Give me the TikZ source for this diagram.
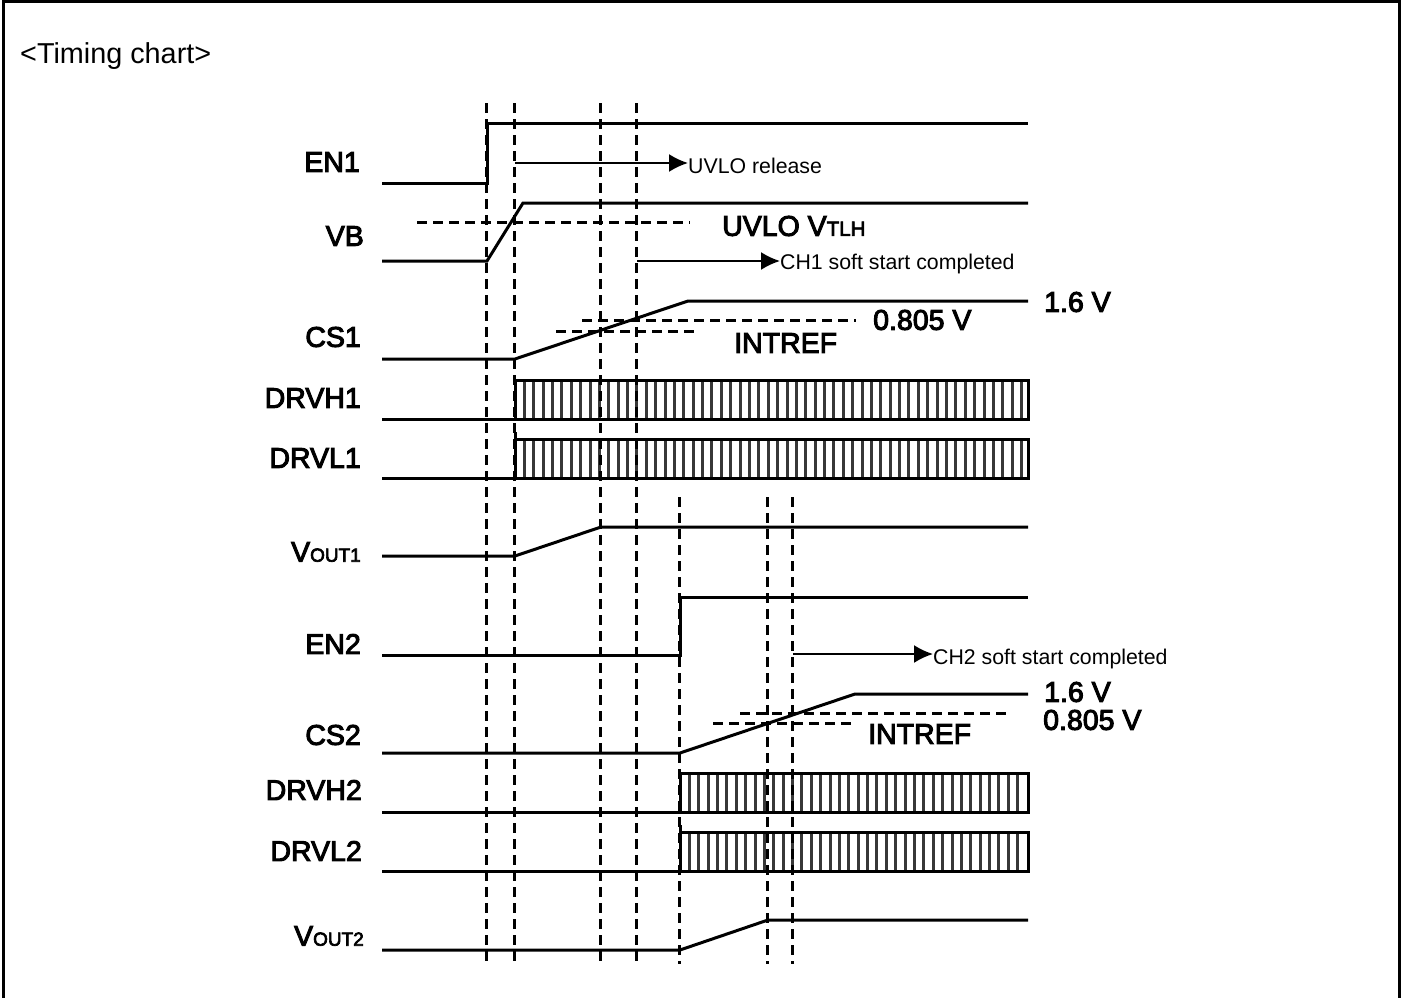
\documentclass[tikz,border=0pt]{standalone}
\usepackage{fontspec}
\setmainfont{Liberation Sans}
\newfontfamily\heavyfont[FakeBold=3.5]{Liberation Sans}
\usetikzlibrary{arrows.meta}
\newcommand{\biglab}{\heavyfont\fontsize{28.5}{30}\selectfont}
\newcommand{\smlab}{\heavyfont\fontsize{19}{20}\selectfont}
\newcommand{\tlhlab}{\heavyfont\fontsize{20.5}{20}\selectfont}
\newcommand{\notelab}{\fontsize{21.3}{24}\selectfont}
\tikzset{
  x=1pt,y=-1pt,
  wave/.style={line width=3pt,line join=miter,black},
  guide/.style={line width=3pt,dash pattern=on 9.5pt off 6.5pt,black},
  level/.style={line width=3pt,dash pattern=on 9.5pt off 6.5pt,black},
  pointer/.style={line width=2pt,-{Latex[length=19pt,width=18pt]},black},
  hatch/.style={line width=3pt,black!78},
  sig/.style={inner sep=0pt,anchor=east},
  val/.style={inner sep=0pt,anchor=west},
  note/.style={inner sep=0pt,anchor=west},
}
\newcommand{\pwmbar}[3]{% x start, top, bottom
  \foreach \hx in {0,...,60}{
    \pgfmathsetmacro{\px}{#1+9.38*\hx+9.38}
    \ifdim\px pt<1027pt
      \draw[hatch] (\px,#2) -- (\px,#3);
    \fi
  }
  \draw[wave] (382,#3) -- (1028,#3) -- (1028,#2) -- (#1,#2) -- (#1,#3);
}
\begin{document}
\begin{tikzpicture}
\useasboundingbox (0,0) rectangle (1401,998);
\fill[white] (0,0) rectangle (1401,998);
\draw[line width=3pt] (3,998) -- (3,1.5) -- (1399,1.5) -- (1399,998);

\node[inner sep=0pt,anchor=west,font=\fontsize{28.8}{30}\selectfont] (title) at (20,56) {<Timing chart>};

% bars
\pwmbar{515}{380}{419}
\pwmbar{515}{439}{478}
\pwmbar{680}{773}{812}
\pwmbar{680}{832}{871}
\draw[line width=3pt] (515,432) -- (515,439);
\draw[line width=3pt] (680,825) -- (680,832);

% guide lines
\foreach \gx/\ga in {486.6/103,514.6/103,600.6/103,636.6/103,679.6/497,767.6/497,792.6/497}{
  \draw[guide] (\gx,\ga) -- (\gx,964);
}

% waves
\draw[wave] (382,183) -- (487,183) -- (487,123) -- (1028,123);
\draw[wave] (382,261) -- (487,261) -- (523,203) -- (1028,203);
\draw[wave] (382,359) -- (515,359) -- (688,301) -- (1028,301);
\draw[wave] (382,556) -- (515,556) -- (601,527) -- (1028,527);
\draw[wave] (382,655) -- (680,655) -- (680,597) -- (1028,597);
\draw[wave] (382,753) -- (680,753) -- (855,694) -- (1028,694);
\draw[wave] (382,950) -- (680,950) -- (768,920) -- (1028,920);

% reference levels
\draw[level] (417,222) -- (690,222);
\draw[level] (582,320) -- (856,320);
\draw[level] (556,331) -- (697,331);
\draw[level] (740,713) -- (1012,713);
\draw[level] (713,723) -- (855,723);

% signal names
\node[sig,font=\biglab] (en1) at (360,162) {EN1};
\node[sig,font=\biglab] (vb) at (364,236) {VB};
\node[sig,font=\biglab] (cs1) at (361,337) {CS1};
\node[sig,font=\biglab] (drvh1) at (361,398) {DRVH1};
\node[sig,font=\biglab] (drvl1) at (361,458) {DRVL1};
\node[sig,font=\biglab] (vout1) at (361,552) {V{\smlab OUT1}};
\node[sig,font=\biglab] (en2) at (361,644) {EN2};
\node[sig,font=\biglab] (cs2) at (361,735) {CS2};
\node[sig,font=\biglab] (drvh2) at (362,790) {DRVH2};
\node[sig,font=\biglab] (drvl2) at (362,851) {DRVL2};
\node[sig,font=\biglab] (vout2) at (364,936) {V{\smlab OUT2}};

% values
\node[val,font=\biglab] (v16a) at (1044,302) {1.6 V};
\node[val,font=\biglab] (v805a) at (873,320) {0.805 V};
\node[val,font=\biglab] (irefa) at (734,343) {INTREF};
\node[val,font=\biglab] (uvlov) at (722,226) {UVLO V{\tlhlab TLH}};
\node[val,font=\biglab] (v16b) at (1044,692) {1.6 V};
\node[val,font=\biglab] (v805b) at (1043,720) {0.805 V};
\node[val,font=\biglab] (irefb) at (868,734) {INTREF};

% notes and pointers
\node[note,font=\notelab] (n1) at (688,165.5) {UVLO release};
\node[note,font=\notelab] (n2) at (780,264) {CH1 soft start completed};
\node[note,font=\notelab] (n3) at (933,659) {CH2 soft start completed};
\coordinate (p1) at (515,163);
\coordinate (p2) at (637,261);
\coordinate (p3) at (793,654);
\draw[pointer] (p1) -- (p1 -| n1.west);
\draw[pointer] (p2) -- (p2 -| n2.west);
\draw[pointer] (p3) -- (p3 -| n3.west);
\end{tikzpicture}
\end{document}
